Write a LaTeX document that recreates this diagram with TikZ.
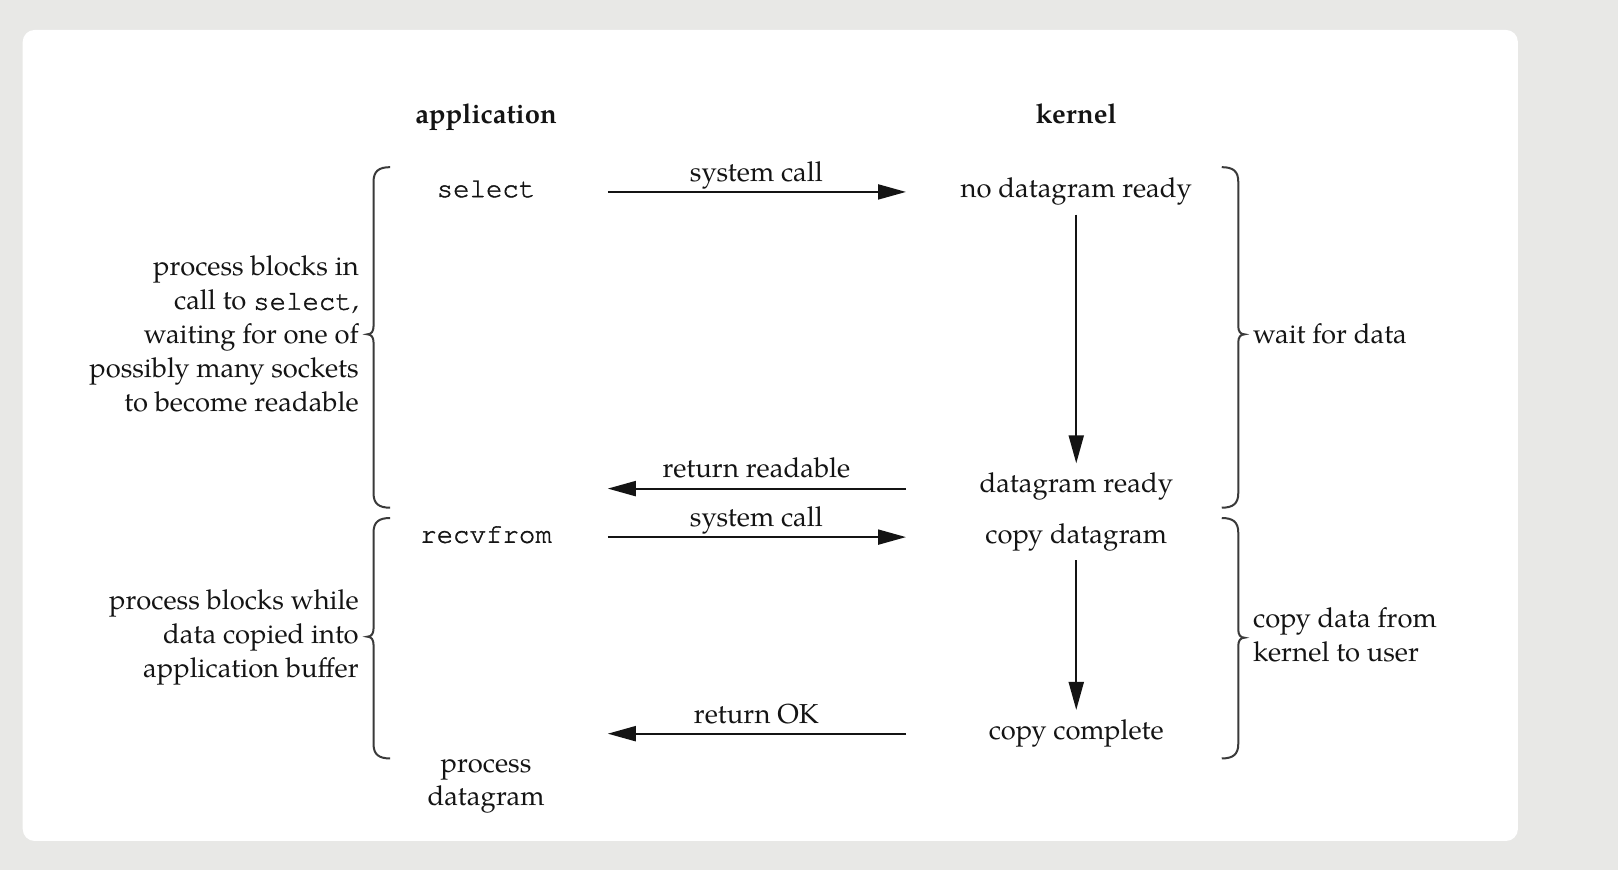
\documentclass[tikz,border=0pt]{standalone}
\usepackage{fontspec}
\setmainfont{TeX Gyre Pagella}
\setmonofont{TeX Gyre Cursor}[FakeBold=1.5]
\usetikzlibrary{arrows.meta}
\definecolor{bggray}{HTML}{E8E8E6}
\definecolor{ink}{HTML}{141414}
\definecolor{bracegray}{HTML}{3A3A3A}
\tikzset{
 txt/.style={inner sep=0pt, text=ink, font=\fontsize{13.7}{17}\selectfont},
 hdr/.style={inner sep=0pt, text=ink, font=\fontsize{13.7}{17}\selectfont\bfseries},
 code/.style={inner sep=0pt, text=ink, font=\fontsize{13.7}{17}\selectfont\ttfamily},
 flow/.style={line width=1pt, draw=ink, -{Triangle[length=14pt,width=7.5pt]}},
 bracepath/.style={draw=bracegray, line width=1pt},
}
\begin{document}
\begin{tikzpicture}[x=0.516pt,y=-0.516pt]
\useasboundingbox (0,0) rectangle (1568,843);
\fill[bggray] (0,0) rectangle (1568,843);
\fill[white, rounded corners=6pt] (22,29) rectangle (1471,815);

% headers
\node[hdr, anchor=base] (app) at (471,119.5) {application};
\node[hdr, anchor=base] (kern) at (1043,119.5) {kernel};

% application column
\node[code, anchor=base] (sel) at (471,191) {select};
\node[code, anchor=base] (recv) at (471,526) {recvfrom};
\node[txt, align=center, anchor=base, font=\fontsize{13.7}{16.5}\selectfont] (proc) at (471,781) {process\\datagram};

% kernel column
\node[txt, anchor=base] (nodg) at (1043,191) {no datagram ready};
\node[txt, anchor=base] (dgr) at (1043,477) {datagram ready};
\node[txt, anchor=base] (cpdg) at (1043,526.5) {copy datagram};
\node[txt, anchor=base] (cpc) at (1043,717) {copy complete};

% coordinates for connectors
\coordinate (a1s) at (589,186); \coordinate (a1e) at (878,186);
\coordinate (a2s) at (878,473.5); \coordinate (a2e) at (589,473.5);
\coordinate (a3s) at (589,520.5); \coordinate (a3e) at (878,520.5);
\coordinate (a4s) at (878,711); \coordinate (a4e) at (589,711);
\coordinate (v1s) at (1043,208); \coordinate (v1e) at (1043,449);
\coordinate (v2s) at (1043,543); \coordinate (v2e) at (1043,688);

% connectors
\draw[flow] (a1s) -- (a1e);
\draw[flow] (a2s) -- (a2e);
\draw[flow] (a3s) -- (a3e);
\draw[flow] (a4s) -- (a4e);
\draw[flow] (v1s) -- (v1e);
\draw[flow] (v2s) -- (v2e);

% connector labels
\node[txt, anchor=base] (l1) at (733,175.5) {system call};
\node[txt, anchor=base] (l2) at (733,462.5) {return readable};
\node[txt, anchor=base] (l3) at (733,510.5) {system call};
\node[txt, anchor=base] (l4) at (733,701) {return OK};

% braces
\draw[bracepath] (378,162) .. controls (367,162) and (362,166) .. (362,176) -- (362,316)
  .. controls (362,321) and (360,324) .. (356,324) .. controls (360,324) and (362,327) .. (362,332)
  -- (362,478) .. controls (362,488) and (367,492) .. (378,492);
\draw[bracepath] (378,502) .. controls (367,502) and (362,506) .. (362,516) -- (362,609)
  .. controls (362,614) and (360,617) .. (356,617) .. controls (360,617) and (362,620) .. (362,625)
  -- (362,721) .. controls (362,731) and (367,735) .. (378,735);
\draw[bracepath] (1184,162) .. controls (1195,162) and (1200,166) .. (1200,176) -- (1200,316)
  .. controls (1200,321) and (1202,324) .. (1206,324) .. controls (1202,324) and (1200,327) .. (1200,332)
  -- (1200,478) .. controls (1200,488) and (1195,492) .. (1184,492);
\draw[bracepath] (1184,502) .. controls (1195,502) and (1200,506) .. (1200,516) -- (1200,610)
  .. controls (1200,615) and (1202,618) .. (1206,618) .. controls (1202,618) and (1200,621) .. (1200,626)
  -- (1200,721) .. controls (1200,731) and (1195,735) .. (1184,735);

% brace labels
\node[txt, align=right, anchor=base east] (w1) at (348,399) {process blocks in\\call to \texttt{select},\\waiting for one of\\possibly many sockets\\to become readable};
\node[txt, align=right, anchor=base east] (w2) at (348,657) {process blocks while\\data copied into\\application buffer};
\node[txt, anchor=base west] (w3) at (1214,333) {wait for data};
\node[txt, align=left, anchor=base west] (w4) at (1214,641) {copy data from\\kernel to user};
\end{tikzpicture}
\end{document}
